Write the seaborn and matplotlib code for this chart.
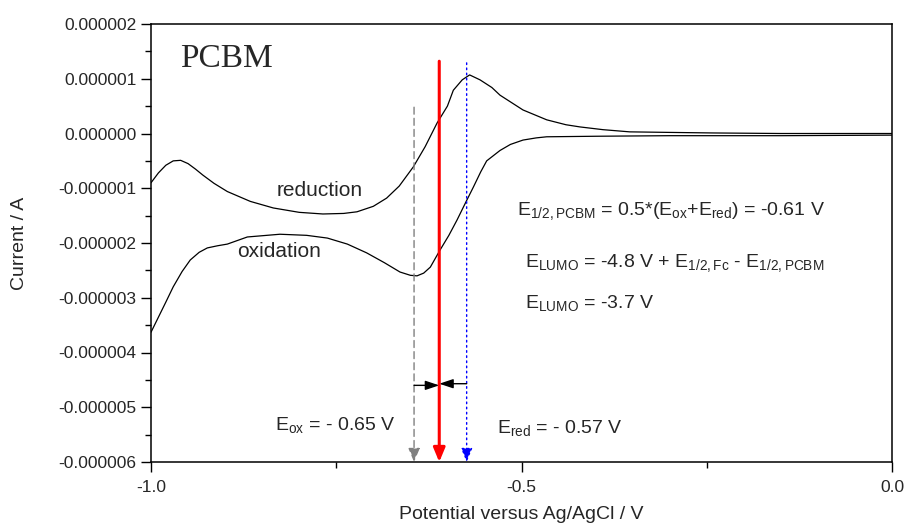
import numpy as np
import pandas as pd
import matplotlib
matplotlib.use("Agg")
import matplotlib.pyplot as plt
import seaborn as sns
from matplotlib.ticker import FuncFormatter, MultipleLocator

# reduction branch (upper curve)
red_pot = [-1.000, -0.990, -0.980, -0.970, -0.960, -0.950, -0.940, -0.930, -0.915,
           -0.897, -0.866, -0.835, -0.800, -0.768, -0.740, -0.722, -0.700, -0.682,
           -0.665, -0.646, -0.630, -0.614, -0.600, -0.592, -0.580, -0.570, -0.556,
           -0.540, -0.529, -0.498, -0.466, -0.440, -0.421, -0.390, -0.354, -0.300,
           -0.242, -0.150, -0.050, 0.000]
red_cur = [-0.90, -0.72, -0.58, -0.50, -0.49, -0.55, -0.65, -0.76, -0.91,
           -1.06, -1.24, -1.36, -1.44, -1.47, -1.46, -1.43, -1.33, -1.18,
           -0.96, -0.61, -0.24, 0.19, 0.50, 0.79, 0.98, 1.07, 0.98,
           0.84, 0.70, 0.43, 0.25, 0.16, 0.12, 0.07, 0.03, 0.02,
           0.01, 0.00, 0.00, 0.00]

# oxidation branch (lower curve)
ox_pot = [-1.000, -0.992, -0.980, -0.970, -0.958, -0.947, -0.935, -0.924, -0.910,
          -0.897, -0.870, -0.826, -0.790, -0.762, -0.735, -0.709, -0.685, -0.664,
          -0.650, -0.641, -0.632, -0.623, -0.610, -0.598, -0.587, -0.575, -0.565,
          -0.555, -0.547, -0.529, -0.515, -0.498, -0.480, -0.466, -0.398, -0.300,
          -0.150, 0.000]
ox_cur = [-3.63, -3.41, -3.08, -2.80, -2.52, -2.31, -2.17, -2.09, -2.05,
          -2.02, -1.89, -1.84, -1.86, -1.91, -2.02, -2.18, -2.36, -2.53,
          -2.59, -2.60, -2.55, -2.44, -2.13, -1.86, -1.58, -1.25, -0.98,
          -0.70, -0.50, -0.31, -0.20, -0.12, -0.08, -0.06, -0.05, -0.04,
          -0.04, -0.03]

# peak potentials and arrow tops (current in uA)
e_ox, e_half, e_red = -0.645, -0.611, -0.574
top_ox, top_half, top_red = 0.48, 1.32, 1.29

scale = 1e-6
df_red = pd.DataFrame({"pot": red_pot, "cur": np.array(red_cur) * scale})
df_ox = pd.DataFrame({"pot": ox_pot, "cur": np.array(ox_cur) * scale})

sns.set_theme(style="ticks")
plt.rcParams["font.family"] = ["Liberation Sans", "DejaVu Sans"]
plt.rcParams["mathtext.fontset"] = "custom"
plt.rcParams["mathtext.rm"] = "Liberation Sans"
plt.rcParams["mathtext.it"] = "Liberation Sans:italic"

fig = plt.figure(figsize=(9.06, 5.27), dpi=100)
ax = fig.add_axes([151 / 906, 65 / 527, 741 / 906, 438 / 527])

sns.lineplot(data=df_red, x="pot", y="cur", color="black", lw=0.9, sort=False, ax=ax)
sns.lineplot(data=df_ox, x="pot", y="cur", color="black", lw=0.9, sort=False, ax=ax)

ymin = -6e-6
# vertical arrows
ax.annotate("", xy=(e_ox, ymin), xytext=(e_ox, top_ox * scale),
            arrowprops=dict(arrowstyle="-|>,head_length=0.6,head_width=0.25", color="grey",
                            lw=1.0, ls=(0, (5, 3)), mutation_scale=14, shrinkA=0, shrinkB=0))
ax.annotate("", xy=(e_half, ymin), xytext=(e_half, top_half * scale),
            arrowprops=dict(arrowstyle="-|>,head_length=0.6,head_width=0.25", color="red",
                            lw=2.2, mutation_scale=14, shrinkA=0, shrinkB=0))
ax.annotate("", xy=(e_red, ymin), xytext=(e_red, top_red * scale),
            arrowprops=dict(arrowstyle="-|>,head_length=0.6,head_width=0.25", color="blue",
                            lw=1.0, ls=(0, (1.2, 2.5)), mutation_scale=14, shrinkA=0, shrinkB=0))

# bracket between the peaks
ax.annotate("", xy=(e_half, -4.60e-6), xytext=(e_ox, -4.60e-6),
            arrowprops=dict(arrowstyle="-|>,head_length=0.6,head_width=0.2", color="black",
                            lw=1.0, mutation_scale=14, shrinkA=0, shrinkB=0))
ax.annotate("", xy=(e_half, -4.57e-6), xytext=(e_red, -4.57e-6),
            arrowprops=dict(arrowstyle="-|>,head_length=0.6,head_width=0.2", color="black",
                            lw=1.0, mutation_scale=14, shrinkA=0, shrinkB=0))

# labels
ax.text(-0.961, 1.22e-6, "PCBM", family=["Liberation Serif"], fontsize=24, va="baseline")
ax.text(-0.830, -1.14e-6, "reduction", fontsize=15, va="baseline")
ax.text(-0.884, -2.26e-6, "oxidation", fontsize=15, va="baseline")
ax.text(-0.506, -1.49e-6,
        r"E$_{\mathregular{1/2,PCBM}}$ = 0.5*(E$_{\mathregular{ox}}$+E$_{\mathregular{red}}$) = -0.61 V",
        fontsize=14, va="baseline")
ax.text(-0.495, -2.44e-6,
        r"E$_{\mathregular{LUMO}}$ = -4.8 V + E$_{\mathregular{1/2,Fc}}$ - E$_{\mathregular{1/2,PCBM}}$",
        fontsize=14, va="baseline")
ax.text(-0.495, -3.19e-6, r"E$_{\mathregular{LUMO}}$ = -3.7 V", fontsize=14, va="baseline")
ax.text(-0.833, -5.41e-6, r"E$_{\mathregular{ox}}$ = - 0.65 V", fontsize=14, va="baseline")
ax.text(-0.533, -5.47e-6, r"E$_{\mathregular{red}}$ = - 0.57 V", fontsize=14, va="baseline")

# axes
ax.set_xlim(-1.0, 0.0)
ax.set_ylim(-6e-6, 2e-6)
ax.xaxis.set_major_locator(MultipleLocator(0.5))
ax.xaxis.set_minor_locator(MultipleLocator(0.25))
ax.yaxis.set_major_locator(MultipleLocator(1e-6))
ax.yaxis.set_minor_locator(MultipleLocator(0.5e-6))
ax.xaxis.set_major_formatter(FuncFormatter(lambda v, p: f"{v:.1f}"))
ax.yaxis.set_major_formatter(FuncFormatter(lambda v, p: f"{v:.6f}" if abs(v) > 1e-12 else "0.000000"))
ax.tick_params(which="major", direction="out", length=7, width=1.0, labelsize=12.5, color="black")
ax.tick_params(which="minor", direction="out", length=4, width=1.0, color="black")
ax.tick_params(axis="x", pad=6)
for s in ax.spines.values():
    s.set_visible(True)
    s.set_linewidth(1.1)
    s.set_color("black")

ax.set_xlabel("Potential versus Ag/AgCl / V", fontsize=14, labelpad=8)
ax.set_ylabel("Current / A", fontsize=14, labelpad=22)

fig.savefig("out.png", dpi=100)
